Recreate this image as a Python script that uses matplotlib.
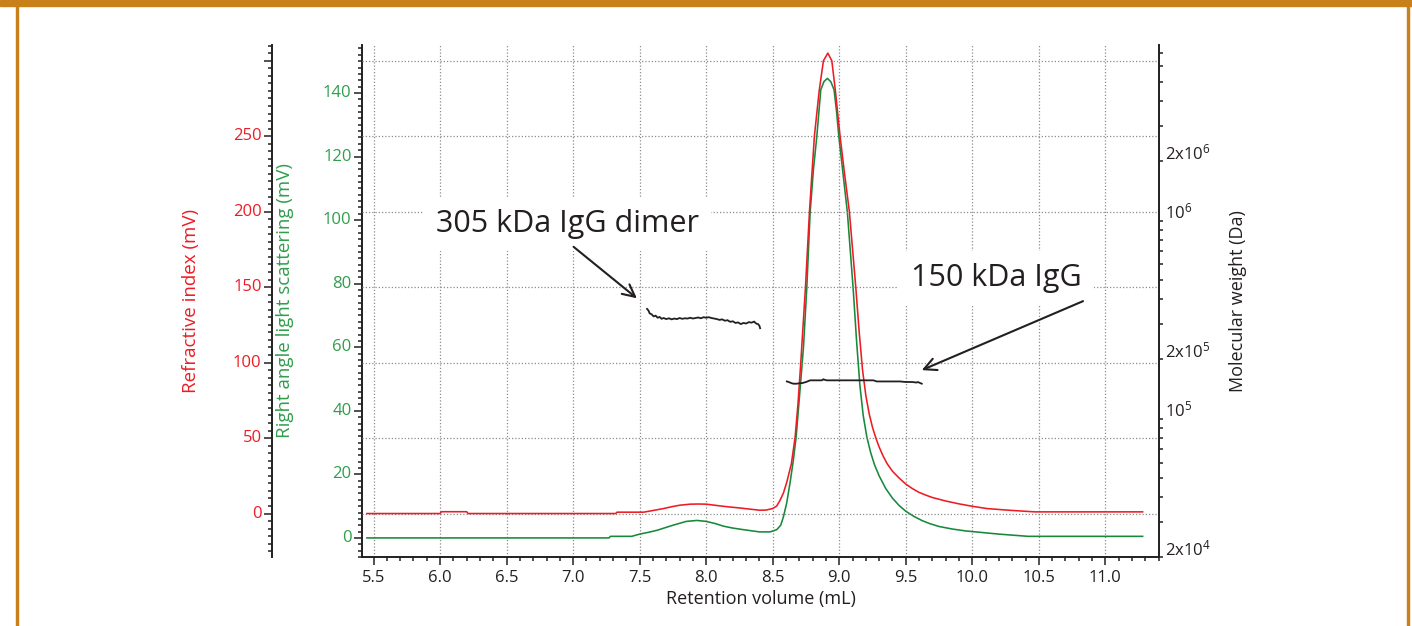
import matplotlib
matplotlib.use("Agg")
import matplotlib.pyplot as plt
import numpy as np
from matplotlib.patches import Rectangle
from matplotlib.ticker import (MultipleLocator, FixedLocator, FixedFormatter,
                               LogLocator, NullFormatter, FormatStrFormatter)
from matplotlib.transforms import ScaledTranslation

plt.rcParams["font.family"] = ["Open Sans", "DejaVu Sans"]
plt.rcParams["mathtext.default"] = "regular"

RED = "#ed1c24"
GREEN = "#17893a"
GREEN_TEXT = "#2f9e4c"
INK = "#231f20"
GRID = "#8c8c8c"
FRAME = "#c8811a"

# refractive index trace (mL, mV)
ri_volume = [5.45, 6.00, 6.01, 6.20, 6.21, 7.32, 7.33, 7.53, 7.60, 7.68,
             7.74, 7.80, 7.88, 7.94, 8.00, 8.10, 8.18, 8.25, 8.33, 8.40,
             8.45, 8.50, 8.53, 8.555, 8.58, 8.606, 8.64, 8.668, 8.69, 8.711,
             8.746, 8.776, 8.813, 8.849, 8.881, 8.914, 8.944, 8.971, 9.006, 9.040,
             9.076, 9.124, 9.15, 9.175, 9.20, 9.225, 9.25, 9.275, 9.30, 9.33,
             9.36, 9.40, 9.45, 9.50, 9.55, 9.60, 9.65, 9.70, 9.80, 9.90,
             10.0, 10.109, 10.271, 10.47, 10.80, 11.28]
ri_signal = [0, 0, 1.2, 1.2, 0, 0, 0.9, 0.9, 2.0, 3.3,
             4.5, 5.5, 6.2, 6.3, 6.2, 5.1, 4.3, 3.7, 2.9, 2.2,
             2.3, 3.3, 5.0, 8.8, 13.5, 20.9, 33, 50.4, 73, 100.4,
             150, 200, 250, 280, 300, 305, 300, 280, 250, 225,
             200, 150, 120, 95, 78, 66, 57, 50, 44, 38,
             33, 28, 23.5, 19.5, 16.5, 14.0, 12.2, 10.6, 8.3, 6.4,
             4.8, 3.3, 2.2, 1.1, 1.1, 1.1]

# right angle light scattering trace (mL, mV)
rals_volume = [5.45, 7.27, 7.28, 7.44, 7.50, 7.57, 7.63, 7.69, 7.75, 7.80,
               7.85, 7.93, 8.00, 8.07, 8.13, 8.20, 8.28, 8.40, 8.48, 8.53,
               8.56, 8.58, 8.605, 8.631, 8.655, 8.676, 8.70, 8.731, 8.756, 8.781,
               8.806, 8.831, 8.861, 8.885, 8.911, 8.937, 8.961, 8.980, 8.997, 9.030,
               9.061, 9.104, 9.13, 9.155, 9.18, 9.207, 9.235, 9.265, 9.30, 9.35,
               9.40, 9.45, 9.50, 9.56, 9.62, 9.68, 9.75, 9.85, 9.95, 10.05,
               10.20, 10.42, 11.28]
rals_signal = [0, 0, 0.5, 0.5, 1.2, 1.8, 2.4, 3.2, 4.0, 4.6,
               5.2, 5.5, 5.2, 4.5, 3.7, 3.1, 2.6, 1.9, 1.9, 2.6,
               4.0, 6.6, 11.0, 17.6, 24.5, 31.8, 44, 60, 78.7, 102.4,
               116, 126.2, 141, 143.6, 144.6, 143.5, 141, 134, 126.2, 114,
               102.4, 78.7, 62, 48, 38.5, 31.8, 27, 23, 19.5, 15.5,
               12.5, 10.2, 8.4, 6.8, 5.5, 4.5, 3.6, 2.8, 2.2, 1.8,
               1.2, 0.5, 0.5]

# molar mass across the dimer peak (mL, kDa)
dimer_volume = [7.555, 7.565, 7.575, 7.59, 7.605, 7.62, 7.635, 7.65, 7.665, 7.68,
                7.70, 7.72, 7.74, 7.76, 7.78, 7.80, 7.82, 7.84, 7.86, 7.88,
                7.90, 7.92, 7.94, 7.96, 7.98, 8.00, 8.02, 8.04, 8.06, 8.08,
                8.10, 8.12, 8.14, 8.16, 8.18, 8.20, 8.22, 8.24, 8.26, 8.28,
                8.30, 8.32, 8.34, 8.36, 8.37, 8.38, 8.39, 8.40, 8.405]
dimer_kda = [358, 352, 340, 336, 328, 331, 323, 326, 319, 322,
             318, 321, 317, 320, 318, 322, 319, 321, 320, 323,
             320, 322, 324, 321, 325, 323, 325, 322, 320, 318,
             315, 317, 312, 314, 308, 310, 304, 306, 300, 304,
             302, 307, 305, 309, 304, 301, 300, 294, 286]

# molar mass across the monomer peak (mL, kDa)
monomer_volume = [8.606, 8.62, 8.64, 8.656, 8.68, 8.706, 8.72, 8.75, 8.781, 8.80,
                  8.84, 8.869, 8.875, 8.881, 8.89, 8.906, 9.0, 9.1, 9.2, 9.257,
                  9.282, 9.35, 9.457, 9.5, 9.55, 9.58, 9.59, 9.60, 9.62]
monomer_kda = [154, 153, 151, 150, 150, 151, 151, 153, 156, 156,
               156, 156, 157, 158, 157, 156, 156, 156, 156, 156,
               154, 154, 154, 153, 153, 152, 153, 152, 150]

red_ticks = [0, 50, 100, 150, 200, 250, 300]
red_tick_labels = ["0", "50", "100", "150", "200", "250", ""]
mw_ticks = [2e4, 1e5, 2e5, 1e6, 2e6]
mw_tick_labels = ["2x$10^{4}$", "$10^{5}$", "2x$10^{5}$", "$10^{6}$", "2x$10^{6}$"]

fig = plt.figure(figsize=(14.12, 6.26), dpi=100)

# orange frame around the figure
W, H = 1412.0, 626.0
fig.patches.append(Rectangle((0, 1 - 6 / H), 1, 6 / H, transform=fig.transFigure,
                             color=FRAME, zorder=0))
fig.patches.append(Rectangle((15.5 / W, 0), 2.5 / W, 1, transform=fig.transFigure,
                             color=FRAME, zorder=0))
fig.patches.append(Rectangle((1406.8 / W, 0), 2.5 / W, 1, transform=fig.transFigure,
                             color=FRAME, zorder=0))

ax = fig.add_axes([362 / W, 1 - 557 / H, (1159 - 362) / W, (557 - 45) / H])
ax_red = ax.twinx()
ax_mw = ax.twinx()

# light scattering on the main axes
ax.plot(rals_volume, rals_signal, color=GREEN, lw=1.15, zorder=2)
ax.set_xlim(5.413, 11.403)
ax.set_ylim(-6.0, 155.1)
ax.xaxis.set_major_locator(MultipleLocator(0.5))
ax.xaxis.set_minor_locator(MultipleLocator(0.1))
ax.xaxis.set_major_formatter(FormatStrFormatter("%.1f"))
ax.yaxis.set_major_locator(MultipleLocator(20))
ax.yaxis.set_minor_locator(MultipleLocator(2))
ax.grid(axis="x", which="major", color=GRID, linestyle=(0, (1, 1.6)), lw=0.9)
ax.set_axisbelow(True)
for s in ("top", "right"):
    ax.spines[s].set_visible(False)
for s in ("left", "bottom"):
    ax.spines[s].set_linewidth(1.4)
    ax.spines[s].set_color(INK)
ax.tick_params(which="both", direction="out", color=INK, width=1.1)
ax.tick_params(which="major", length=5.5, labelsize=12)
ax.tick_params(which="minor", length=2.8)
ax.tick_params(axis="y", labelcolor=GREEN_TEXT, pad=2)
ax.tick_params(axis="x", labelcolor=INK, pad=4)
ax.set_xlabel("Retention volume (mL)", fontsize=13, color=INK, labelpad=3)
ax.set_ylabel("Right angle light scattering (mV)", fontsize=13.5, color=GREEN_TEXT)
ax.yaxis.set_label_coords(-0.0853, 0.5)

# refractive index on an offset left axis
ax_red.plot(ri_volume, ri_signal, color=RED, lw=1.15)
ax_red.set_ylim(-28.8, 310.4)
ax_red.yaxis.tick_left()
ax_red.yaxis.set_label_position("left")
ax_red.spines["left"].set_position(("outward", 90 * 72 / 100))
ax_red.spines["left"].set_linewidth(1.4)
ax_red.spines["left"].set_color(INK)
for s in ("top", "right", "bottom"):
    ax_red.spines[s].set_visible(False)
ax_red.yaxis.set_major_locator(FixedLocator(red_ticks))
ax_red.yaxis.set_major_formatter(FixedFormatter(red_tick_labels))
ax_red.yaxis.set_minor_locator(MultipleLocator(5))
ax_red.grid(axis="y", which="major", color=GRID, linestyle=(0, (1, 1.6)), lw=0.9)
ax_red.tick_params(which="both", direction="out", color=INK, width=1.1)
ax_red.tick_params(which="major", length=5.5, labelsize=12, labelcolor=RED, pad=2)
ax_red.tick_params(which="minor", length=2.8)
ax_red.set_ylabel("Refractive index (mV)", fontsize=13.5, color=RED)
ax_red.yaxis.set_label_coords(-0.2033, 0.5)

# molar mass on a log right axis
ax_mw.set_yscale("log")
ax_mw.plot(dimer_volume, np.array(dimer_kda) * 1000, color=INK, lw=1.3)
ax_mw.plot(monomer_volume, np.array(monomer_kda) * 1000, color=INK, lw=1.3)
ax_mw.set_ylim(2e4, 7.7e6)
ax_mw.yaxis.set_major_locator(FixedLocator(mw_ticks))
ax_mw.yaxis.set_major_formatter(FixedFormatter(mw_tick_labels))
ax_mw.yaxis.set_minor_locator(LogLocator(base=10, subs=np.arange(1, 10)))
ax_mw.yaxis.set_minor_formatter(NullFormatter())
for s in ("top", "left", "bottom"):
    ax_mw.spines[s].set_visible(False)
ax_mw.spines["right"].set_linewidth(1.4)
ax_mw.spines["right"].set_color(INK)
ax_mw.tick_params(which="both", direction="out", length=3.2, width=1.1, color=INK,
                  labelsize=12, labelcolor=INK, pad=1)
ax_mw.set_ylabel("Molecular weight (Da)", fontsize=13, color=INK)
ax_mw.yaxis.set_label_coords(1.0878, 0.5)

# peak annotations (placed in light-scattering units)
box = dict(boxstyle="square,pad=0.4", fc="white", ec="none")
ax_mw.text(6.955, 98.7, "305 kDa IgG dimer", transform=ax.transData, ha="center",
           va="center", fontsize=22, color=INK, bbox=box, zorder=5)
ax_mw.text(10.178, 81.7, "150 kDa IgG", transform=ax.transData, ha="center",
           va="center", fontsize=22, color=INK, bbox=box, zorder=5)
arrow = dict(arrowstyle="->", color=INK, lw=1.5, mutation_scale=22,
             shrinkA=0, shrinkB=0)
ax_mw.annotate("", xy=(7.479, 75.4), xycoords=ax.transData,
               xytext=(7.003, 91.6), textcoords=ax.transData, arrowprops=arrow, zorder=6)
ax_mw.annotate("", xy=(9.620, 52.8), xycoords=ax.transData,
               xytext=(10.832, 74.5), textcoords=ax.transData, arrowprops=arrow, zorder=6)

# tick labels sit slightly above their ticks in the original
up = ScaledTranslation(0, 2 / 100, fig.dpi_scale_trans)
for lbl in ax.get_yticklabels() + ax_red.get_yticklabels():
    lbl.set_transform(lbl.get_transform() + up)
for lbl in ax_mw.get_yticklabels():
    lbl.set_verticalalignment("baseline")
    lbl.set_transform(lbl.get_transform() + up)

fig.savefig("out.png", dpi=100)
